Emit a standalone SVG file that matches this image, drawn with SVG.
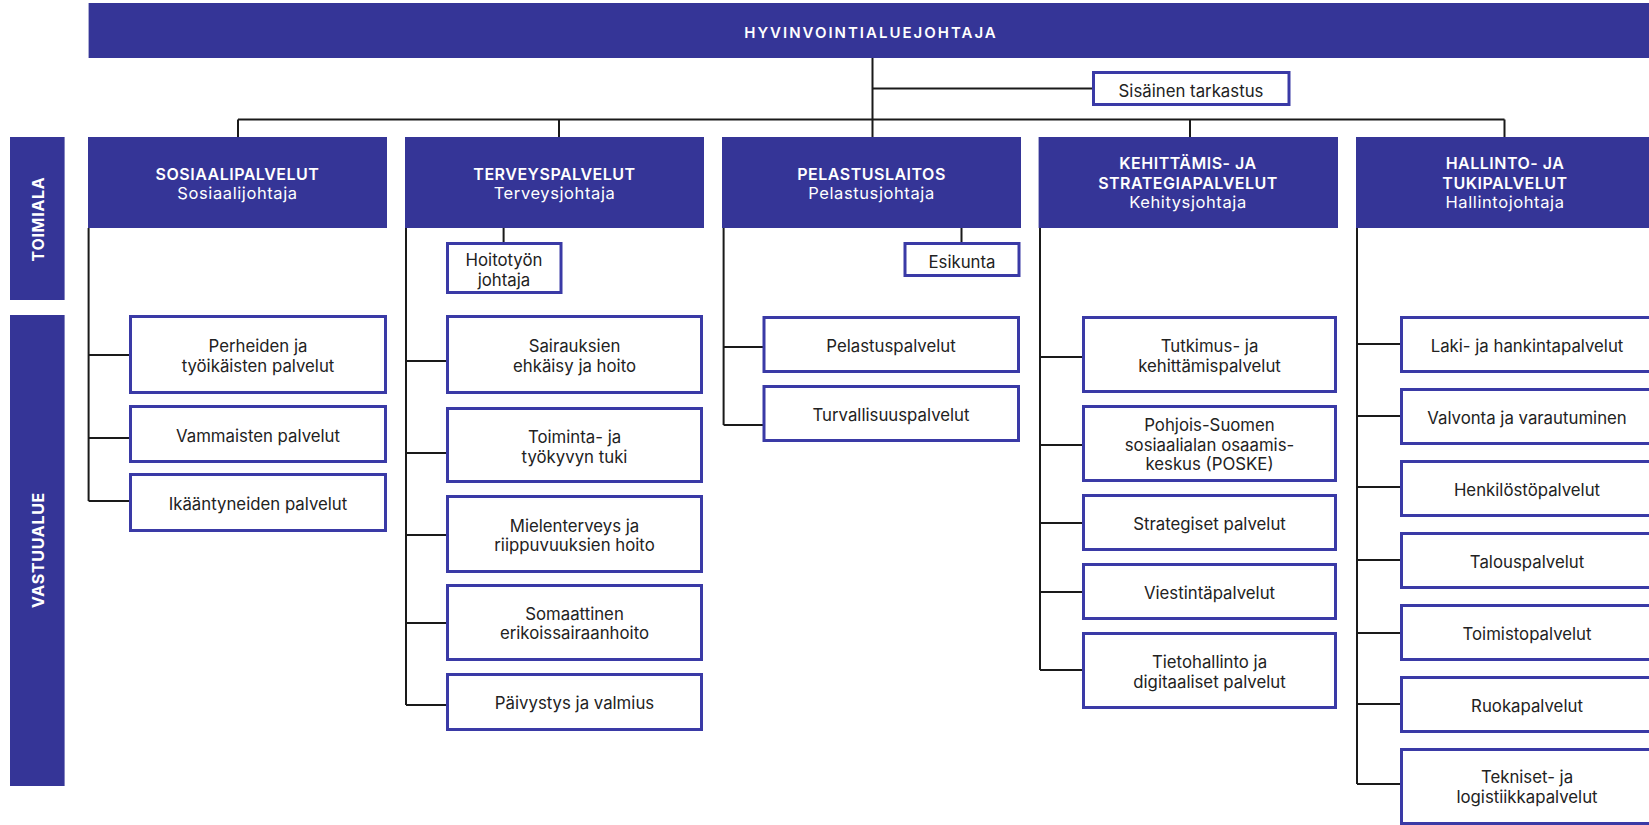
<svg xmlns="http://www.w3.org/2000/svg" width="1649" height="825" viewBox="0 0 1649 825">
<style>
.band{fill:#353597}
.box{fill:#fff;stroke:#3a3aa6;stroke-width:3}
.ln{fill:none;stroke:#1a1a1a;stroke-width:2}
text{font-family:Inter,"Liberation Sans",sans-serif;text-anchor:middle}
.ht{fill:#fff;font-size:16px;font-weight:600;letter-spacing:0.5px}
.hs{fill:#fff;font-size:16.5px;font-weight:400;letter-spacing:0.6px}
.bt{fill:#222;font-size:16.8px}
.vt{fill:#fff;font-size:16px;font-weight:700;letter-spacing:0.7px}
</style>
<rect width="1649" height="825" fill="#fff"/>
<g id="connectors" class="ln">
<path d="M872.5 58V137M872.5 88.5H1093M238 119.5H1504.5M238 119.5V137M559 119.5V137M1190 119.5V137M1504.5 119.5V137"/>
<path d="M88.6 228V501M88.6 355H130M88.6 438H130M88.6 501H130"/>
<path d="M503.6 228V243M406 228V705M406 361H447M406 453H447M406 535H447M406 623H447M406 705H447"/>
<path d="M961.5 228V243M723.6 228V425M723.6 347H764M723.6 425H764"/>
<path d="M1040 228V670M1040 357H1083M1040 445H1083M1040 523H1083M1040 592H1083M1040 670H1083"/>
<path d="M1357 228V784M1357 344H1401M1357 416H1401M1357 487H1401M1357 560H1401M1357 633H1401M1357 704H1401M1357 784H1401"/>
</g>
<g id="side-toimiala"><rect class="band" x="10" y="137" width="54.6" height="163"/><text class="vt" transform="translate(43.5 219) rotate(-90)">TOIMIALA</text></g>
<g id="side-vastuualue"><rect class="band" x="10" y="315" width="54.6" height="471"/><text class="vt" transform="translate(43.5 550) rotate(-90)">VASTUUALUE</text></g>
<g id="top"><rect class="band" x="88.6" y="3" width="1570" height="55"/><text class="ht" x="871" y="37.5" style="font-size:15px;letter-spacing:2px">HYVINVOINTIALUEJOHTAJA</text></g>
<g id="sisainen"><rect class="box" x="1093.5" y="72.5" width="195.5" height="32"/><text class="bt" x="1191" y="97">Sisäinen tarkastus</text></g>
<g id="h-sosiaali"><rect class="band" x="88" y="137" width="299" height="91"/><text class="ht" x="237.5" y="180">SOSIAALIPALVELUT</text><text class="hs" x="237.5" y="199">Sosiaalijohtaja</text></g>
<g id="h-terveys"><rect class="band" x="405" y="137" width="299" height="91"/><text class="ht" x="554.5" y="180">TERVEYSPALVELUT</text><text class="hs" x="554.5" y="199">Terveysjohtaja</text></g>
<g id="h-pelastus"><rect class="band" x="722" y="137" width="299" height="91"/><text class="ht" x="871.5" y="180">PELASTUSLAITOS</text><text class="hs" x="871.5" y="199">Pelastusjohtaja</text></g>
<g id="h-kehittamis"><rect class="band" x="1038.6" y="137" width="299.4" height="91"/><text class="ht" x="1188" y="169">KEHITTÄMIS- JA</text><text class="ht" x="1188" y="189">STRATEGIAPALVELUT</text><text class="hs" x="1188" y="208">Kehitysjohtaja</text></g>
<g id="h-hallinto"><rect class="band" x="1356" y="137" width="300" height="91"/><text class="ht" x="1505" y="169">HALLINTO- JA</text><text class="ht" x="1505" y="189">TUKIPALVELUT</text><text class="hs" x="1505" y="208">Hallintojohtaja</text></g>
<g id="hoitotyon"><rect class="box" x="447.5" y="243.5" width="113.5" height="49"/><text class="bt" x="504" y="266">Hoitotyön</text><text class="bt" x="504" y="286">johtaja</text></g>
<g id="esikunta"><rect class="box" x="905" y="243.5" width="114" height="32"/><text class="bt" x="962" y="268">Esikunta</text></g>
<g id="s1"><rect class="box" x="130.5" y="316.5" width="255" height="76"/><text class="bt" x="258" y="352">Perheiden ja</text><text class="bt" x="258" y="372">työikäisten palvelut</text></g>
<g id="s2"><rect class="box" x="130.5" y="406.5" width="255" height="55"/><text class="bt" x="258" y="442">Vammaisten palvelut</text></g>
<g id="s3"><rect class="box" x="130.5" y="474.5" width="255" height="56"/><text class="bt" x="258" y="510">Ikääntyneiden palvelut</text></g>
<g id="t1"><rect class="box" x="447.5" y="316.5" width="254" height="76"/><text class="bt" x="574.5" y="352">Sairauksien</text><text class="bt" x="574.5" y="372">ehkäisy ja hoito</text></g>
<g id="t2"><rect class="box" x="447.5" y="408.5" width="254" height="73"/><text class="bt" x="574.5" y="443">Toiminta- ja</text><text class="bt" x="574.5" y="463">työkyvyn tuki</text></g>
<g id="t3"><rect class="box" x="447.5" y="496.5" width="254" height="75"/><text class="bt" x="574.5" y="532">Mielenterveys ja</text><text class="bt" x="574.5" y="551">riippuvuuksien hoito</text></g>
<g id="t4"><rect class="box" x="447.5" y="585.5" width="254" height="74"/><text class="bt" x="574.5" y="620">Somaattinen</text><text class="bt" x="574.5" y="639">erikoissairaanhoito</text></g>
<g id="t5"><rect class="box" x="447.5" y="674.5" width="254" height="55"/><text class="bt" x="574.5" y="709">Päivystys ja valmius</text></g>
<g id="p1"><rect class="box" x="764" y="317.5" width="254.5" height="54"/><text class="bt" x="891" y="352">Pelastuspalvelut</text></g>
<g id="p2"><rect class="box" x="764" y="386.5" width="254.5" height="54"/><text class="bt" x="891" y="421">Turvallisuuspalvelut</text></g>
<g id="k1"><rect class="box" x="1083.5" y="317.5" width="252" height="74"/><text class="bt" x="1209.5" y="352">Tutkimus- ja</text><text class="bt" x="1209.5" y="372">kehittämispalvelut</text></g>
<g id="k2"><rect class="box" x="1083.5" y="406.5" width="252" height="74"/><text class="bt" x="1209.5" y="431">Pohjois-Suomen</text><text class="bt" x="1209.5" y="451">sosiaalialan osaamis-</text><text class="bt" x="1209.5" y="470">keskus (POSKE)</text></g>
<g id="k3"><rect class="box" x="1083.5" y="495.5" width="252" height="54"/><text class="bt" x="1209.5" y="530">Strategiset palvelut</text></g>
<g id="k4"><rect class="box" x="1083.5" y="564.5" width="252" height="54"/><text class="bt" x="1209.5" y="599">Viestintäpalvelut</text></g>
<g id="k5"><rect class="box" x="1083.5" y="633.5" width="252" height="74"/><text class="bt" x="1209.5" y="668">Tietohallinto ja</text><text class="bt" x="1209.5" y="688">digitaaliset palvelut</text></g>
<g id="a1"><rect class="box" x="1401.5" y="317.5" width="251" height="54"/><text class="bt" x="1527" y="352">Laki- ja hankintapalvelut</text></g>
<g id="a2"><rect class="box" x="1401.5" y="389.5" width="251" height="54"/><text class="bt" x="1527" y="424">Valvonta ja varautuminen</text></g>
<g id="a3"><rect class="box" x="1401.5" y="461.5" width="251" height="54"/><text class="bt" x="1527" y="496">Henkilöstöpalvelut</text></g>
<g id="a4"><rect class="box" x="1401.5" y="533.5" width="251" height="54"/><text class="bt" x="1527" y="568">Talouspalvelut</text></g>
<g id="a5"><rect class="box" x="1401.5" y="605.5" width="251" height="54"/><text class="bt" x="1527" y="640">Toimistopalvelut</text></g>
<g id="a6"><rect class="box" x="1401.5" y="677.5" width="251" height="54"/><text class="bt" x="1527" y="712">Ruokapalvelut</text></g>
<g id="a7"><rect class="box" x="1401.5" y="749.5" width="251" height="74"/><text class="bt" x="1527" y="783">Tekniset- ja</text><text class="bt" x="1527" y="803">logistiikkapalvelut</text></g>
</svg>
